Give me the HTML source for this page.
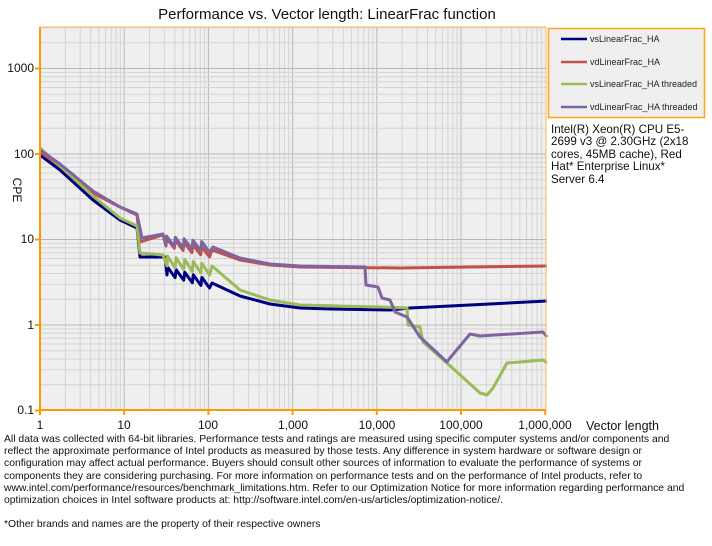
<!DOCTYPE html>
<html><head><meta charset="utf-8"><style>
body{margin:0;background:#fff;width:712px;height:546px;overflow:hidden;font-family:"Liberation Sans",Arial,sans-serif;}
svg{position:absolute;left:0;top:0}
.fn{position:absolute;left:4px;top:434px;width:704px;font-size:10.4px;line-height:12.2px;color:#111;white-space:nowrap}
.info{position:absolute;left:551px;top:124px;font-size:11.6px;line-height:12.4px;color:#111}
</style></head><body>
<svg id="s" width="712" height="546" xmlns="http://www.w3.org/2000/svg" font-family="Liberation Sans, Arial, sans-serif">
<rect x="40" y="27" width="506" height="383" fill="#efefef"/>
<g id="grid"></g>
<g id="series" fill="none" stroke-width="3" stroke-linejoin="round"></g>
<line x1="40" y1="27" x2="40" y2="411" stroke="#ff9900" stroke-width="2"/>
<line x1="39" y1="410" x2="546" y2="410" stroke="#ff9900" stroke-width="2"/>
<line x1="546" y1="27" x2="546" y2="411" stroke="#ffb84d" stroke-width="1"/>
<line x1="40" y1="27" x2="546" y2="27" stroke="#ffb84d" stroke-width="1"/>
<g id="ticks" stroke="#ff9900" stroke-width="2"></g>
<text x="327" y="19" font-size="15" text-anchor="middle" fill="#111">Performance vs. Vector length: LinearFrac function</text>
<g font-size="12" fill="#111" text-anchor="end">
<text x="34" y="72">1000</text><text x="34" y="158">100</text><text x="34" y="243">10</text><text x="34" y="329">1</text><text x="34" y="414">0.1</text>
</g>
<text x="13" y="190" font-size="12" fill="#111" transform="rotate(90 13 190)" text-anchor="middle">CPE</text>
<g font-size="12" fill="#111" text-anchor="middle">
<text x="40" y="429">1</text><text x="124" y="429">10</text><text x="208" y="429">100</text><text x="293" y="429">1,000</text><text x="377" y="429">10,000</text><text x="461" y="429">100,000</text><text x="545" y="429">1,000,000</text>
</g>
<text x="586" y="430" font-size="12.5" fill="#111">Vector length</text>
<rect x="548.5" y="28.5" width="156" height="89" fill="#efefef" stroke="#ffa31a" stroke-width="1.5"/>
<g stroke-width="2.5"><line x1="561" y1="39" x2="587" y2="39" stroke="#000080"/><line x1="561" y1="62" x2="587" y2="62" stroke="#c0504d"/><line x1="561" y1="84" x2="587" y2="84" stroke="#9bbb59"/><line x1="561" y1="107" x2="587" y2="107" stroke="#8064a2"/></g>
<g font-size="9" fill="#222"><text x="590" y="42">vsLinearFrac_HA</text><text x="590" y="65">vdLinearFrac_HA</text><text x="590" y="87">vsLinearFrac_HA threaded</text><text x="590" y="110">vdLinearFrac_HA threaded</text></g>
</svg>
<div class="info">Intel(R) Xeon(R) CPU E5-<br>2699 v3 @ 2.30GHz (2x18<br>cores, 45MB cache), Red<br>Hat* Enterprise Linux*<br>Server 6.4</div>
<div class="fn">All data was collected with 64-bit libraries. Performance tests and ratings are measured using specific computer systems and/or components and<br>reflect the approximate performance of Intel products as measured by those tests. Any difference in system hardware or software design or<br>configuration may affect actual performance. Buyers should consult other sources of information to evaluate the performance of systems or<br>components they are considering purchasing. For more information on performance tests and on the performance of Intel products, refer to<br>www.intel.com/performance/resources/benchmark_limitations.htm. Refer to our Optimization Notice for more information regarding performance and<br>optimization choices in Intel software products at: http://software.intel.com/en-us/articles/optimization-notice/.<br><br>*Other brands and names are the property of their respective owners</div>
<script>
var NS="http://www.w3.org/2000/svg";
function X(l){return 40+84.2*l;} function Y(l){return 325-85.5*l;}
var g=document.getElementById('grid'),t=document.getElementById('ticks');
function ln(p,x1,y1,x2,y2,c,w){var e=document.createElementNS(NS,'line');e.setAttribute('x1',x1);e.setAttribute('y1',y1);e.setAttribute('x2',x2);e.setAttribute('y2',y2);e.setAttribute('stroke',c);e.setAttribute('stroke-width',w);p.appendChild(e);}
for(var d=0;d<6;d++)for(var k=1;k<10;k++){var x=X(d+Math.log10(k));ln(g,x,27,x,410,k==1?'#b8b8b8':'#d4d4d4',1);}
for(var d=-1;d<4;d++)for(var k=1;k<10;k++){var y=Y(d+Math.log10(k));if(y<27)continue;ln(g,40,y,546,y,k==1?'#b8b8b8':'#d4d4d4',1);}
for(var d=0;d<=6;d++){var x=X(d);ln(t,x,410,x,415,'#ff9900',2);}
for(var d=-1;d<=3;d++){var y=Y(d);ln(t,35,y,40,y,'#ff9900',2);}
function saw(pts,x0,y0,x1,y1,amp){var n=5;for(var i=0;i<n;i++){var xa=x0+(x1-x0)*i/n,xb=x0+(x1-x0)*(i+1)/n;var ya=y0+(y1-y0)*i/n,yb=y0+(y1-y0)*(i+1)/n;pts.push([xa+0.5,ya-amp],[xb-0.5,yb]);}}
var S=[
 ['#000080',[[40,155],[60,170],[93,200],[120,220],[137,228],[140,257],[165,257],[167,275],'S',[167,275,210,288,8],[212,283],[240,296],[270,304],[300,308],[330,309],[390,310],[410,308],[470,305],[547,301]]],
 ['#c0504d',[[40,152],[60,166],[93,193],[120,207],[137,215],[140,242],[163,235],[166,246],'S',[166,246,210,257,8],[212,250],[240,260],[270,265],[300,267],[400,268],[470,267],[547,266]]],
 ['#9bbb59',[[40,148],[60,166],[93,196],[120,218],[137,226],[140,253],[163,255],[167,266],'S',[167,266,210,275,10],[212,266],[240,290],[270,300],[300,305],[380,307],[407,308],[408,325],[420,327],[423,342],[447,363],[480,393],[487,395],[493,388],[507,363],[520,362],[543,360],[547,363]]],
 ['#8064a2',[[40,150],[60,164],[93,191],[120,207],[137,214],[142,238],[163,234],[166,245],'S',[166,245,210,252,9],[213,247],[240,258],[270,264],[300,266],[365,267],[366,285],[378,287],[382,298],[390,300],[395,312],[407,317],[420,337],[447,362],[450,358],[470,334],[480,336],[543,332],[547,337]]]
];
var sg=document.getElementById('series');
S.forEach(function(s){var pts=[];var a=s[1];for(var i=0;i<a.length;i++){if(a[i]=='S'){var q=a[++i];saw(pts,q[0],q[1],q[2],q[3],q[4]);}else pts.push(a[i]);}
var p=document.createElementNS(NS,'polyline');p.setAttribute('points',pts.map(function(v){return v[0]+','+v[1];}).join(' '));p.setAttribute('stroke',s[0]);sg.appendChild(p);});
</script>
</body></html>
